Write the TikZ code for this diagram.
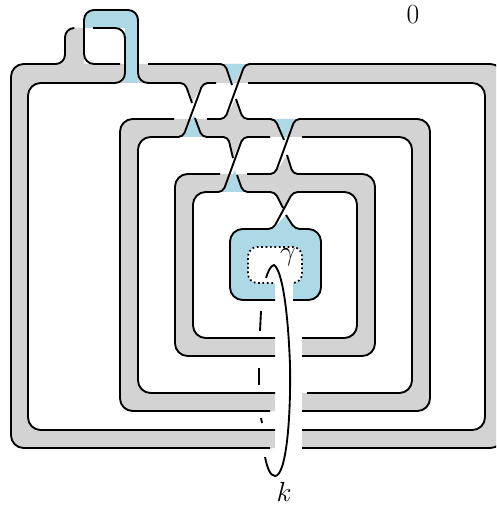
\documentclass[tikz,border=0pt]{standalone}
\usepackage{tikz}

\definecolor{bandgray}{HTML}{D3D3D3}
\definecolor{bandblue}{HTML}{ADD8E6}

\newcommand{\twistfill}[4]{%
  \fill[#1] (#2) -- (#3) -- (#4) -- cycle;
}

\begin{document}
\begin{tikzpicture}[x=0.75pt, y=-0.75pt]

\tikzset{
  strand/.style={
    draw=black,
    line width=1.4pt,
    rounded corners=3.5pt
  },
  wide/.style={rounded corners=9.5pt},
  tight/.style={rounded corners=3.5pt},
  frontfill/.style={fill=bandgray, rounded corners=9.5pt},
  backfill/.style={fill=bandblue},
  halo/.style={fill=white},
  knotlabel/.style={font=\huge, inner sep=0pt}
}

\clip (0,0) rectangle (496,505);

% FILLS ----------------------------------------------------------

% Outer band with its hook
\path[frontfill] (84,28) [rounded corners=7pt] -- (65,28) -- (65,64) [wide] -- (11,64)
  -- (11,448) -- (503,448) -- (503,64) [sharp corners] -- (138,64) -- (138,83) [wide]
  -- (485,83) -- (485,430) -- (28,430) -- (28,83) [sharp corners] -- (125,83) -- (125,64)
  -- (84,64) -- cycle;

% Middle and inner band
\path[frontfill, even odd rule]
  (120,119) -- (430,119) -- (430,411) -- (120,411) -- cycle
  (138,137) -- (412,137) -- (412,393) -- (138,393) -- cycle;
\path[frontfill, even odd rule]
  (175,174) -- (375,174) -- (375,356) -- (175,356) -- cycle
  (193,192) -- (357,192) -- (357,338) -- (193,338) -- cycle;

% Gray parts of the twists
\twistfill{bandgray}{185,83}{203,83}{192,103}
\twistfill{bandgray}{225,119}{243,119}{236,99}
\twistfill{bandgray}{228,137}{243,137}{233,158}
\twistfill{bandgray}{275,174}{293,174}{287,155}
\twistfill{bandgray}{275,192}{293,192}{283,208}

% Blue parts of the twists
\twistfill{bandblue}{225,64}{245,64}{232,85}
\twistfill{bandblue}{183,137}{202,137}{194,115}
\twistfill{bandblue}{275,119}{295,119}{284,140}
\twistfill{bandblue}{224,192}{243,192}{235,170}

% Blue handle and centre panel
\path[backfill] (84,28) [rounded corners=7.5pt] -- (84,10) -- (138,10) [sharp corners]
  -- (138,83) -- (125,83) -- (125,28) -- cycle;
\path[backfill, wide] (230,229) -- (321,229) -- (321,300) -- (230,300) -- cycle;
\twistfill{bandblue}{273,229}{295,229}{286,215}

% Gaps for gamma and k
\path[halo, rounded corners=7pt] (248,247) rectangle (302,283);
\path[halo] (275,280) rectangle (293,302);
\path[halo] (275,336) rectangle (302,358);
\path[halo] (275,391) rectangle (302,413);
\path[halo] (275,428) rectangle (302,450);

% STRANDS --------------------------------------------------------

% Outer band
\draw[strand] (73,28) [rounded corners=7pt] -- (65,28) -- (65,64) [wide] -- (11,64)
  -- (11,448) -- (270,448);
\draw[strand] (302,448) [wide] -- (503,448) -- (503,64) [tight] -- (245,64) -- (225,119) -- (207,119);
\draw[strand] (248,83) [wide] -- (485,83) -- (485,430) -- (302,430);
\draw[strand] (275,430) [wide] -- (28,430) -- (28,83) [rounded corners=7.5pt] -- (125,83)
  -- (125,28) -- (93,28);
\draw[strand, rounded corners=7.5pt] (120,64) -- (84,64) -- (84,10) -- (138,10) -- (138,83)
  [tight] -- (185,83) -- (192,103);
\draw[strand] (148,64) -- (225,64) -- (232,85);

% Middle band
\draw[strand] (236,99) -- (243,119) -- (275,119) -- (284,140);
\draw[strand] (216,83) -- (203,83) -- (183,137) [wide] -- (138,137) -- (138,393) -- (275,393);
\draw[strand, wide] (174,119) -- (120,119) -- (120,411) -- (270,411);
\draw[strand] (195,118) -- (202,137) -- (228,137) -- (233,158);
\draw[strand] (247,174) -- (275,174) -- (295,119) [wide] -- (430,119) -- (430,411) -- (302,411);
\draw[strand, wide] (302,137) -- (412,137) -- (412,393) -- (307,393);

% Inner band
\draw[strand] (270,137) -- (243,137) -- (223,192) [wide] -- (193,192) -- (193,338) -- (275,338);
\draw[strand, wide] (220,174) -- (175,174) -- (175,356) -- (275,356);
\draw[strand, wide] (302,356) -- (375,356) -- (375,174) [tight] -- (293,174) -- (287,155);
\draw[strand] (237,175) -- (243,192) -- (275,192) -- (283,208);

% Centre panel
\draw[strand, wide] (302,338) -- (357,338) -- (357,192) [tight] -- (293,192) -- (273,229)
  [wide] -- (230,229) -- (230,300) -- (275,300);
\draw[strand, wide] (293,300) -- (321,300) -- (321,229) [tight] -- (295,229) -- (286,215);

% Curve gamma
\draw[line width=1.3pt, dotted, rounded corners=7pt]
  (273,283) -- (248,283) -- (248,247) -- (302,247) -- (302,283) -- (293,283);

% Knot k
\draw[line width=1.4pt]
  (266,278) .. controls (268,272) and (270,266) .. (274,265)
  .. controls (282,270) and (288,310) .. (290,365)
  .. controls (291,420) and (286,476) .. (275,476)
  .. controls (270,476) and (267,467) .. (265,457);
\draw[line width=1.4pt] (261,311) -- (260,331);
\draw[line width=1.4pt] (259,368) -- (259,385);
\draw[line width=1.4pt] (261,418) -- (262,423);

% NODES ----------------------------------------------------------

\node[knotlabel] (framing) at (413,15)  {0};
\node[knotlabel] (gamma)   at (288,257) {$\gamma$};
\node[knotlabel] (klabel)  at (284,492) {$k$};

\end{tikzpicture}
\end{document}
